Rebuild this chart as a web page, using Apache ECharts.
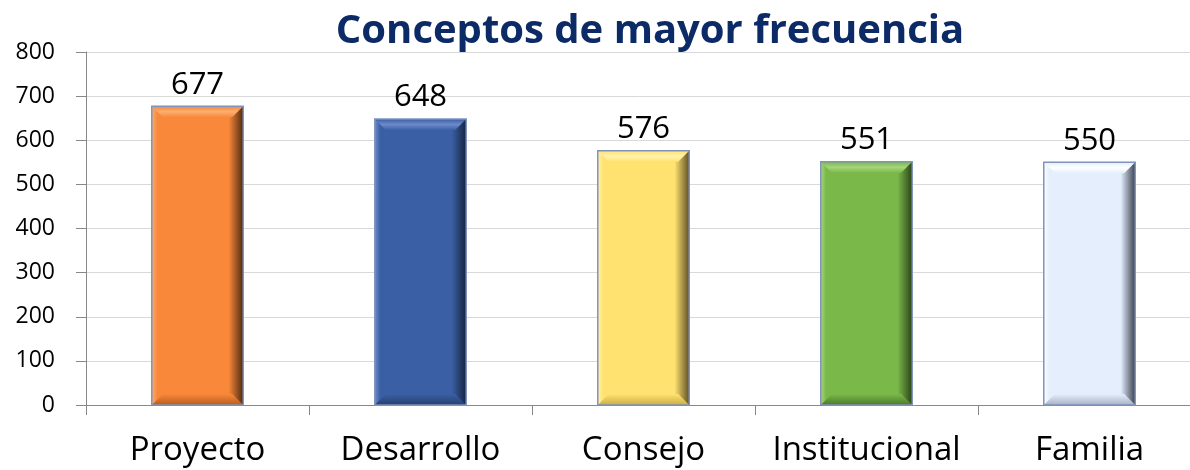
<!DOCTYPE html>
<html>
<head>
<meta charset="utf-8">
<script src="https://cdn.jsdelivr.net/npm/echarts@6/dist/echarts.min.js"></script>
<style>
  html, body { margin: 0; padding: 0; background: #fff; }
  #main { width: 1190px; height: 470px; }
</style>
</head>
<body>
<div id="main"></div>
<script>
// chart data
var categories = ['Proyecto', 'Desarrollo', 'Consejo', 'Institucional', 'Familia'];
var values = [677, 648, 576, 551, 550];
var yTicks = [0, 100, 200, 300, 400, 500, 600, 700, 800];

// bar palette: base, light bevel, dark bevel, right edge shadow
var palette = [
    ['#f9883a', '#fcae70', '#b95d1e', '#4f2a12'],
    ['#3a5fa5', '#6d8bcb', '#263f70', '#17243f'],
    ['#ffe26f', '#fff2ab', '#cdae45', '#5f5126'],
    ['#7ab84a', '#a6d47c', '#4d7b2b', '#2a4419'],
    ['#e4eefc', '#ffffff', '#a7b2c4', '#3b4250']
];

var FONT = '"Open Sans", sans-serif';

var chartDom = document.getElementById('main');
var myChart = echarts.init(chartDom);

function renderBar(params, api) {
    var idx = api.value(0);
    var top = api.coord([idx, api.value(1)]);
    var base = api.coord([idx, 0]);
    var w = api.size([1, 0])[0] * 0.41;
    var x0 = top[0] - w / 2, x1 = top[0] + w / 2;
    var y0 = top[1], y1 = base[1];
    var b = 11;
    var c = palette[idx];
    return {
        type: 'group',
        children: [
            {
                type: 'rect',
                shape: { x: x0, y: y0, width: w, height: y1 - y0 },
                style: {
                    fill: new echarts.graphic.LinearGradient(0, 0, 1, 0, [
                        { offset: 0, color: c[1] },
                        { offset: 0.06, color: c[0] },
                        { offset: 0.84, color: c[0] },
                        { offset: 1, color: c[3] }
                    ])
                }
            },
            {
                type: 'polygon',
                shape: { points: [[x0, y0], [x1, y0], [x1 - b, y0 + b], [x0 + b, y0 + b]] },
                style: {
                    fill: new echarts.graphic.LinearGradient(0, 0, 0, 1, [
                        { offset: 0, color: c[0] },
                        { offset: 0.5, color: c[1] },
                        { offset: 1, color: c[0] }
                    ])
                }
            },
            {
                type: 'polygon',
                shape: { points: [[x0, y1], [x1, y1], [x1 - b, y1 - b], [x0 + b, y1 - b]] },
                style: {
                    fill: new echarts.graphic.LinearGradient(0, 0, 0, 1, [
                        { offset: 0, color: c[0] },
                        { offset: 1, color: c[2] }
                    ])
                }
            },
            {
                type: 'rect',
                shape: { x: x0, y: y0, width: w, height: y1 - y0 },
                style: { fill: 'none', stroke: '#7f93bb', lineWidth: 1.5 }
            },
            {
                type: 'text',
                x: top[0],
                y: y0 - 6,
                style: {
                    text: String(api.value(1)),
                    fontSize: 31,
                    fontFamily: FONT,
                    fill: '#000',
                    align: 'center',
                    verticalAlign: 'bottom'
                }
            }
        ]
    };
}

var option = {
    animation: false,
    title: {
        text: 'Conceptos de mayor frecuencia',
        left: 645,
        textAlign: 'center',
        top: 7,
        textStyle: {
            fontFamily: FONT,
            fontWeight: 'bold',
            fontSize: 40,
            color: '#0c2a66'
        }
    },
    grid: {
        left: 86,
        right: -11,
        top: 52,
        bottom: 65,
        outerBoundsMode: 'none'
    },
    xAxis: {
        type: 'category',
        data: categories,
        axisLine: { lineStyle: { color: '#888', width: 1 } },
        axisTick: { show: true, interval: 0, length: 10, lineStyle: { color: '#888' } },
        axisLabel: {
            interval: 0,
            hideOverlap: false,
            margin: 29,
            fontSize: 33,
            fontFamily: FONT,
            color: '#000'
        }
    },
    yAxis: {
        type: 'value',
        min: yTicks[0],
        max: yTicks[yTicks.length - 1],
        interval: 100,
        axisLine: { show: true, lineStyle: { color: '#888', width: 1 } },
        axisTick: { show: true, length: 10, lineStyle: { color: '#888' } },
        axisLabel: {
            margin: 31,
            fontSize: 23,
            fontFamily: FONT,
            color: '#000'
        },
        splitLine: { lineStyle: { color: '#d9d9d9' } }
    },
    series: [
        {
            type: 'custom',
            renderItem: renderBar,
            encode: { x: 0, y: 1 },
            data: values.map(function (v, i) { return [i, v]; })
        }
    ]
};

option && myChart.setOption(option);
</script>
</body>
</html>
